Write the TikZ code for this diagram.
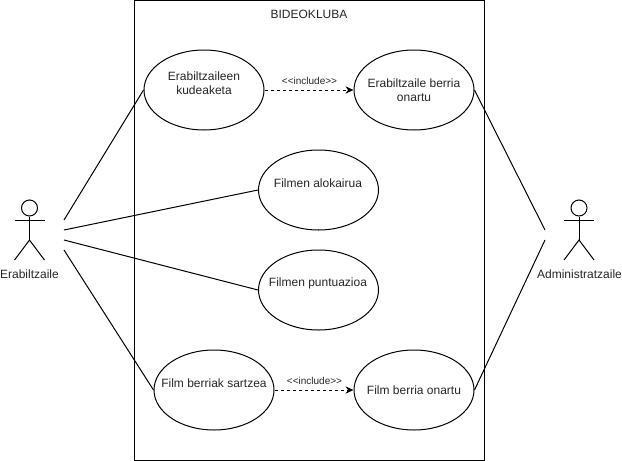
\documentclass[tikz,border=0pt]{standalone}
\usepackage{fontspec}
\setmainfont{Liberation Sans}
\usetikzlibrary{shapes.geometric,arrows.meta}
\tikzset{
	usecase/.style={draw, ellipse, minimum width=90pt, minimum height=60pt, inner sep=0pt},
	testu/.style={font=\fontsize{9pt}{10.5pt}\selectfont, align=center, inner sep=0pt, text=black!85},
	txiki/.style={font=\fontsize{7.5pt}{9pt}\selectfont, inner sep=0pt, text=black!85},
	lotura/.style={line width=0.75pt},
	include/.style={line width=0.75pt, dashed, dash pattern=on 2.25pt off 2.25pt, -{Stealth[length=6pt,width=5.5pt]}},
	burua/.style={draw, circle, minimum size=12pt, inner sep=0pt}
}
\begin{document}
\begin{tikzpicture}[x=0.75pt, y=-0.75pt, line width=0.75pt]
	\useasboundingbox (0,0) rectangle (622,461);

	% Sistema
	\draw (134.5,0.5) rectangle (484,460.5);
	\node[testu] (sistema) at (309,14) {BIDEOKLUBA};

	% Kasuak
	\node[usecase] (kudeaketa) at (204,90) {};
	\node[usecase] (onartu1) at (414,90) {};
	\node[usecase] (alokairua) at (318.5,190) {};
	\node[usecase] (puntuazioa) at (318.5,290) {};
	\node[usecase] (sartzea) at (214,390) {};
	\node[usecase] (onartu2) at (414,390) {};

	\node[testu] (t1) at (204,83) {Erabiltzaileen\\kudeaketa};
	\node[testu] (t2) at (414,90) {Erabiltzaile berria\\onartu};
	\node[testu] (t3) at (318,183) {Filmen alokairua};
	\node[testu] (t4) at (318,283) {Filmen puntuazioa};
	\node[testu] (t5) at (214,383) {Film berriak sartzea};
	\node[testu] (t6) at (414,390) {Film berria onartu};

	% Include
	\draw[include] (kudeaketa) -- (onartu1);
	\draw[include] (sartzea) -- (onartu2);
	\node[txiki] (inc1) at (309.5,81) {<{}<include>{}>};
	\node[txiki] (inc2) at (314.5,381) {<{}<include>{}>};

	% Erabiltzailea
	\node[burua] (burua1) at (29.5,208) {};
	\coordinate (gerri1) at (29.5,240);
	\coordinate (besoE1) at (14.5,220.5);
	\coordinate (besoD1) at (44.5,220.5);
	\coordinate (hankaE1) at (14.5,260);
	\coordinate (hankaD1) at (44.5,260);
	\draw (burua1) -- (gerri1);
	\draw (besoE1) -- (besoD1);
	\draw (hankaE1) -- (gerri1) -- (hankaD1);
	\node[testu] (erabiltzaile) at (29.5,274) {Erabiltzaile};

	% Administratzailea
	\node[burua] (burua2) at (579,208) {};
	\coordinate (gerri2) at (579,240);
	\coordinate (besoE2) at (564,220.5);
	\coordinate (besoD2) at (594,220.5);
	\coordinate (hankaE2) at (564,260);
	\coordinate (hankaD2) at (594,260);
	\draw (burua2) -- (gerri2);
	\draw (besoE2) -- (besoD2);
	\draw (hankaE2) -- (gerri2) -- (hankaD2);
	\node[testu] (admin) at (579.5,274) {Administratzaile};

	% Loturak
	\coordinate (e1) at (64,220);
	\coordinate (e2) at (64,230);
	\coordinate (e3) at (64,240);
	\coordinate (e4) at (64,250);
	\coordinate (a1) at (545,230);
	\coordinate (a2) at (545,240);
	\draw[lotura] (e1) -- (kudeaketa.west);
	\draw[lotura] (e2) -- (alokairua.west);
	\draw[lotura] (e3) -- (puntuazioa.west);
	\draw[lotura] (e4) -- (sartzea.west);
	\draw[lotura] (a1) -- (onartu1.east);
	\draw[lotura] (a2) -- (onartu2.east);

\end{tikzpicture}
\end{document}
